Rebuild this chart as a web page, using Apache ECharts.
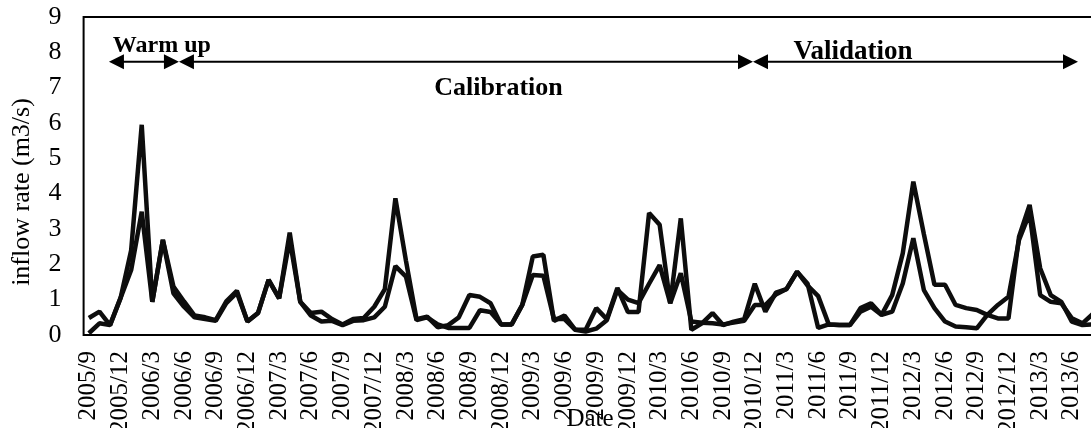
<!DOCTYPE html>
<html>
<head>
<meta charset="utf-8">
<script src="https://cdn.jsdelivr.net/npm/echarts@6/dist/echarts.min.js"></script>
<style>
html,body{margin:0;padding:0;background:#fff;}
#chart{width:1091px;height:428px;}
</style>
</head>
<body>
<div id="chart"></div>
<script>
// Monthly categories 2005/9 .. 2013/8
const startYear = 2005, startMonth = 9, monthCount = 96;
const categories = [];
for (let k = 0; k < monthCount; k++) {
  const m = startMonth - 1 + k;
  categories.push((startYear + Math.floor(m / 12)) + '/' + (m % 12 + 1));
}

const seriesA = [
  0.48,0.66,0.28,1.05,2.4,5.95,0.94,2.69,1.37,0.95,0.55,0.5,
  0.42,0.95,1.25,0.38,0.62,1.56,1.04,2.9,0.94,0.62,0.66,0.45,
  0.3,0.45,0.48,0.8,1.3,3.87,2.1,0.45,0.52,0.22,0.28,0.5,
  1.13,1.08,0.9,0.3,0.3,0.85,2.22,2.27,0.4,0.55,0.15,0.15,
  0.76,0.45,1.33,0.65,0.65,3.45,3.12,0.9,3.3,0.15,0.33,0.62,
  0.28,0.38,0.45,1.45,0.66,1.2,1.3,1.79,1.45,0.2,0.3,0.28,
  0.28,0.76,0.9,0.57,1.13,2.31,4.34,2.85,1.42,1.42,0.85,0.76,
  0.71,0.57,0.47,0.47,2.78,3.68,1.89,1.13,0.94,0.38,0.28,0.3
];
const seriesB = [
  0.05,0.33,0.28,1.05,1.84,3.49,0.94,2.69,1.18,0.8,0.5,0.45,
  0.4,0.9,1.2,0.38,0.62,1.56,1.04,2.7,0.94,0.55,0.38,0.4,
  0.28,0.4,0.42,0.5,0.8,1.95,1.65,0.42,0.5,0.3,0.2,0.2,
  0.2,0.7,0.65,0.3,0.3,0.85,1.7,1.68,0.45,0.45,0.15,0.1,
  0.18,0.42,1.28,1.0,0.9,1.45,1.98,0.9,1.75,0.38,0.35,0.33,
  0.3,0.35,0.4,0.85,0.85,1.15,1.3,1.79,1.4,1.1,0.3,0.28,
  0.28,0.66,0.8,0.57,0.66,1.46,2.74,1.27,0.76,0.38,0.24,0.22,
  0.19,0.57,0.85,1.08,2.69,3.45,1.13,0.94,0.9,0.47,0.33,0.6
];

const yTicks = [0,1,2,3,4,5,6,7,8,9];

// Period annotations (in month-index units)
const periodNames = ['Warm up', 'Calibration', 'Validation'];
const periodStart = [1.9, 8.52, 62.83];
const periodEnd = [8.52, 62.83, 93.58];
const arrowLevel = 7.73;
const labelPosX = [6.9, 38.75, 72.3];
const labelPosY = [8.19, 6.97, 8.0];
const labelSizes = [24, 26, 27];

const periodData = periodNames.map((n, i) =>
  [periodStart[i], periodEnd[i], arrowLevel, labelPosX[i], labelPosY[i], i]);

const chart = echarts.init(document.getElementById('chart'), null, {renderer: 'canvas'});
const FONT = '"Liberation Serif", "Times New Roman", serif';
const lineColor = '#0d0d0d';

chart.setOption({
  animation: false,
  backgroundColor: '#fff',
  grid: {left: 83.6, top: 17, bottom: 93, right: -7.3, show: true, borderColor: '#000', borderWidth: 2,
         containLabel: false, outerBoundsMode: 'none'},
  xAxis: [{
    type: 'category',
    data: categories,
    boundaryGap: true,
    axisLine: {show: false},
    axisTick: {show: false},
    axisLabel: {interval: 2, rotate: 90, margin: 16, fontFamily: FONT, fontSize: 25, color: '#000'},
    splitLine: {show: false}
  }, {
    type: 'value', min: -0.5, max: monthCount - 0.5, show: false
  }],
  yAxis: {
    type: 'value', min: yTicks[0], max: yTicks[yTicks.length - 1], interval: 1,
    axisLine: {show: false}, axisTick: {show: false}, splitLine: {show: false},
    axisLabel: {margin: 22, fontFamily: FONT, fontSize: 26, color: '#000'}
  },
  series: [{
    type: 'line', data: seriesB, showSymbol: false, symbol: 'none',
    lineStyle: {color: lineColor, width: 4.5}, xAxisIndex: 0
  }, {
    type: 'line', data: seriesA, showSymbol: false, symbol: 'none',
    lineStyle: {color: lineColor, width: 4.5}, xAxisIndex: 0
  }, {
    type: 'custom', xAxisIndex: 1, yAxisIndex: 0, clip: false,
    data: periodData,
    renderItem: function (params, api) {
      const s = api.coord([api.value(0), api.value(2)]);
      const e = api.coord([api.value(1), api.value(2)]);
      const t = api.coord([api.value(3), api.value(4)]);
      const idx = api.value(5);
      const L = 15, H = 15;
      return {
        type: 'group',
        children: [
          {type: 'line', shape: {x1: s[0] + L - 2, y1: s[1], x2: e[0] - L + 2, y2: e[1]}, style: {stroke: '#000', lineWidth: 2}},
          {type: 'polygon', shape: {points: [[s[0], s[1]], [s[0] + L, s[1] - H / 2], [s[0] + L, s[1] + H / 2]]}, style: {fill: '#000'}},
          {type: 'polygon', shape: {points: [[e[0], e[1]], [e[0] - L, e[1] - H / 2], [e[0] - L, e[1] + H / 2]]}, style: {fill: '#000'}},
          {type: 'text', style: {text: periodNames[idx], x: t[0], y: t[1], align: 'center', verticalAlign: 'middle',
            fontFamily: FONT, fontWeight: 'bold', fontSize: labelSizes[idx], fill: '#000'}}
        ]
      };
    }
  }],
  graphic: [{
    type: 'text', x: 22, y: 192, rotation: Math.PI / 2,
    style: {text: 'inflow rate (m3/s)', align: 'center', verticalAlign: 'middle', fontFamily: FONT, fontSize: 26, fill: '#000'}
  }, {
    type: 'text', x: 590, y: 419,
    style: {text: 'Date', align: 'center', verticalAlign: 'middle', fontFamily: FONT, fontSize: 25, fill: '#000'}
  }]
});
</script>
</body>
</html>
